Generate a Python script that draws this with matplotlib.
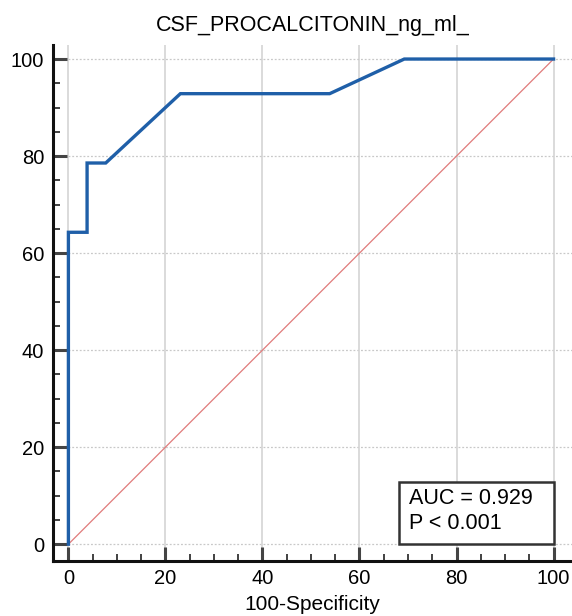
import matplotlib.pyplot as plt
from matplotlib.patches import Rectangle
from matplotlib.ticker import MultipleLocator

plt.rcParams['font.family'] = ['Liberation Sans', 'DejaVu Sans']

# ROC curve points (100-specificity, sensitivity)
fpr = [0, 0, 3.85, 3.85, 7.69, 23.08, 53.85, 69.23, 100]
tpr = [0, 64.29, 64.29, 78.57, 78.57, 92.86, 92.86, 100, 100]
ticks = [0, 20, 40, 60, 80, 100]
auc_lines = ["AUC = 0.929", "P < 0.001"]

fig = plt.figure(figsize=(5.72, 6.16), dpi=100)
ax = fig.add_axes([0.0921, 0.0898, 0.9079, 0.8372])

ax.set_xlim(-3.24, 103.8)
ax.set_ylim(-3.4, 102.9)

# grid: vertical solid, horizontal dotted
for t in ticks:
    ax.axvline(t, color='#d4d4d4', lw=1.2, zorder=0)
    ax.axhline(t, color='#c8c8c8', lw=0.9, ls=(0, (1.5, 1.5)), zorder=0)

ax.plot([0, 100], [0, 100], color='#e07b7b', lw=0.9, zorder=2)
ax.plot(fpr, tpr, color='#1f5fa8', lw=2.4, solid_joinstyle='miter', zorder=3)

ax.set_xticks(ticks)
ax.set_yticks(ticks)
ax.xaxis.set_minor_locator(MultipleLocator(5))
ax.yaxis.set_minor_locator(MultipleLocator(5))
ax.tick_params(which='major', direction='in', length=10, width=2.2, color='#444444',
               labelsize=14.5, pad=6)
ax.tick_params(which='minor', direction='in', length=5, width=1.3, color='#333333')

for s in ['top', 'right']:
    ax.spines[s].set_visible(False)
for s in ['left', 'bottom']:
    ax.spines[s].set_linewidth(2.2)
    ax.spines[s].set_color('#111111')

ax.set_title("CSF_PROCALCITONIN_ng_ml_", fontsize=15.5, pad=10)
ax.set_xlabel("100-Specificity", fontsize=15, labelpad=5)

# AUC box anchored at lower right corner of the data area
ax.add_patch(Rectangle((68.2, 0), 31.8, 12.8, fc='white', ec='#333333', lw=1.8, zorder=4))
ax.text(70.3, 9.5, auc_lines[0], fontsize=15.5, ha='left', va='center', zorder=5)
ax.text(70.3, 4.2, auc_lines[1], fontsize=15.5, ha='left', va='center', zorder=5)

fig.savefig('out.png', dpi=100)
